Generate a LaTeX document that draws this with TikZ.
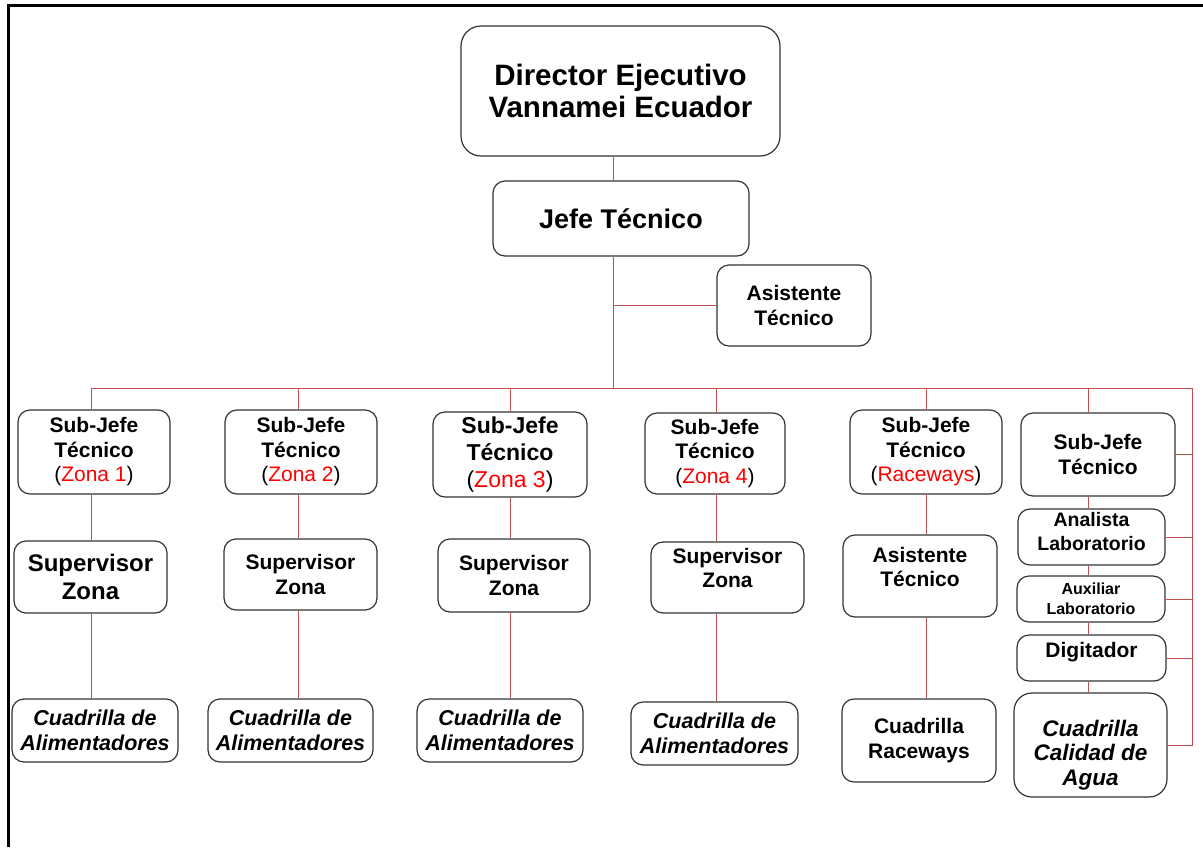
\documentclass[tikz,border=0pt]{standalone}
\usepackage{fontspec}
\setmainfont{Liberation Sans}
\definecolor{linkred}{RGB}{192,80,77}
\tikzset{
  box/.style={draw=black!80, line width=1.2pt, rounded corners=12pt, fill=white,
    align=center, inner sep=0pt, font=\bfseries\fontsize{21}{24.5}\selectfont},
  crew/.style={box, font=\bfseries\itshape\fontsize{21.5}{24.5}\selectfont},
  link/.style={draw=linkred, line width=1pt},
}
\newcommand{\zona}[1]{\\{\mdseries(\textcolor{red}{#1})}}

\begin{document}
\begin{tikzpicture}[x=1pt,y=-1pt]
        \useasboundingbox (0,0) rectangle (1203,847);
        \draw[line width=3pt] (8,847) -- (8,5.5) -- (1203,5.5);

        \node[box, rounded corners=20pt, minimum width=319, minimum height=130,
          font=\bfseries\fontsize{29.5}{32}\selectfont] (dir) at (620.5,91) {Director Ejecutivo\\Vannamei Ecuador};
        \node[box, minimum width=256, minimum height=75,
          font=\bfseries\fontsize{27}{30}\selectfont] (jefe) at (621,218.5) {Jefe Técnico};
        \node[box, minimum width=154, minimum height=81] (asis) at (794,305.5) {Asistente\\Técnico};

        \coordinate (trunk) at (613,388);
        \coordinate (busL) at (91,388);
        \coordinate (busR) at (1192,388);
        \foreach \i/\x in {1/91,2/298,3/510,4/716,5/926,6/1088}
          \coordinate (d\i) at (\x,388);

        \node[box, minimum width=152, minimum height=84] (sj1) at (94,452) {Sub-Jefe\\Técnico\zona{Zona 1}};
        \node[box, minimum width=152, minimum height=84] (sj2) at (301,452) {Sub-Jefe\\Técnico\zona{Zona 2}};
        \node[box, minimum width=154, minimum height=85,
          font=\bfseries\fontsize{23}{27}\selectfont] (sj3) at (510,454.5) {Sub-Jefe\\Técnico\zona{Zona 3}};
        \node[box, minimum width=140, minimum height=81] (sj4) at (715,453.5) {Sub-Jefe\\Técnico\zona{Zona 4}};
        \node[box, minimum width=152, minimum height=84] (sj5) at (926,452) {Sub-Jefe\\Técnico\zona{Raceways}};
        \node[box, minimum width=154, minimum height=83] (sj6) at (1098,454.5) {Sub-Jefe\\Técnico};

        \node[box, minimum width=153, minimum height=72,
          font=\bfseries\fontsize{24}{28}\selectfont] (sup1) at (90.5,577) {Supervisor\\Zona};
        \node[box, minimum width=153, minimum height=71] (sup2) at (300.5,574.5) {Supervisor\\Zona};
        \node[box, minimum width=152, minimum height=73] (sup3) at (514,575.5) {Supervisor\\Zona};
        \node[box, minimum width=153, minimum height=71, text depth=19pt] (sup4) at (727.5,577.5) {Supervisor\\Zona};
        \node[box, minimum width=154, minimum height=82, text depth=18pt] (asis5) at (920,576) {Asistente\\Técnico};

        \node[box, minimum width=147, minimum height=56, text depth=12pt,
          font=\bfseries\fontsize{19.5}{24}\selectfont] (ana) at (1091.5,537) {Analista\\Laboratorio};
        \node[box, minimum width=148, minimum height=46,
          font=\bfseries\fontsize{16}{20}\selectfont] (aux) at (1091,599) {Auxiliar\\Laboratorio};
        \node[box, minimum width=149, minimum height=46, text depth=16pt] (dig) at (1091.5,658) {Digitador};

        \node[crew, minimum width=166, minimum height=63] (cua1) at (95,730.5) {Cuadrilla de\\Alimentadores};
        \node[crew, minimum width=165, minimum height=63] (cua2) at (290.5,730.5) {Cuadrilla de\\Alimentadores};
        \node[crew, minimum width=166, minimum height=63] (cua3) at (500,730.5) {Cuadrilla de\\Alimentadores};
        \node[crew, minimum width=167, minimum height=63] (cua4) at (714.5,733.5) {Cuadrilla de\\Alimentadores};
        \node[box, minimum width=154, minimum height=83] (cua5) at (919,740.5) {Cuadrilla\\Raceways};
        \node[crew, rounded corners=18pt, minimum width=153, minimum height=104, text height=85pt,
          font=\bfseries\itshape\fontsize{22.5}{24.5}\selectfont] (cua6) at (1090.5,745) {Cuadrilla\\Calidad de\\Agua};

        \draw[link] (dir.south -| trunk) -- (jefe.north -| trunk);
        \draw[link] (jefe.south -| trunk) -- (trunk);
        \draw[link] (asis.west) -- (asis.west -| trunk);
        \draw[link] (busL) -- (busR) -- (cua6.east -| busR) -- (cua6.east);
        \foreach \n in {sj6,ana,aux,dig}
          \draw[link] (\n.east) -- (\n.east -| busR);

        \foreach \d/\a/\b/\c in {d1/sj1/sup1/cua1,d2/sj2/sup2/cua2,d3/sj3/sup3/cua3,
                                 d4/sj4/sup4/cua4,d5/sj5/asis5/cua5}
          \draw[link] (\d) -- (\d |- \a.north) (\d |- \a.south) -- (\d |- \b.north)
                      (\d |- \b.south) -- (\d |- \c.north);
        \draw[link] (d6) -- (d6 |- sj6.north) (d6 |- sj6.south) -- (d6 |- ana.north)
                    (d6 |- ana.south) -- (d6 |- aux.north) (d6 |- aux.south) -- (d6 |- dig.north)
                    (d6 |- dig.south) -- (d6 |- cua6.north);
\end{tikzpicture}
\end{document}
